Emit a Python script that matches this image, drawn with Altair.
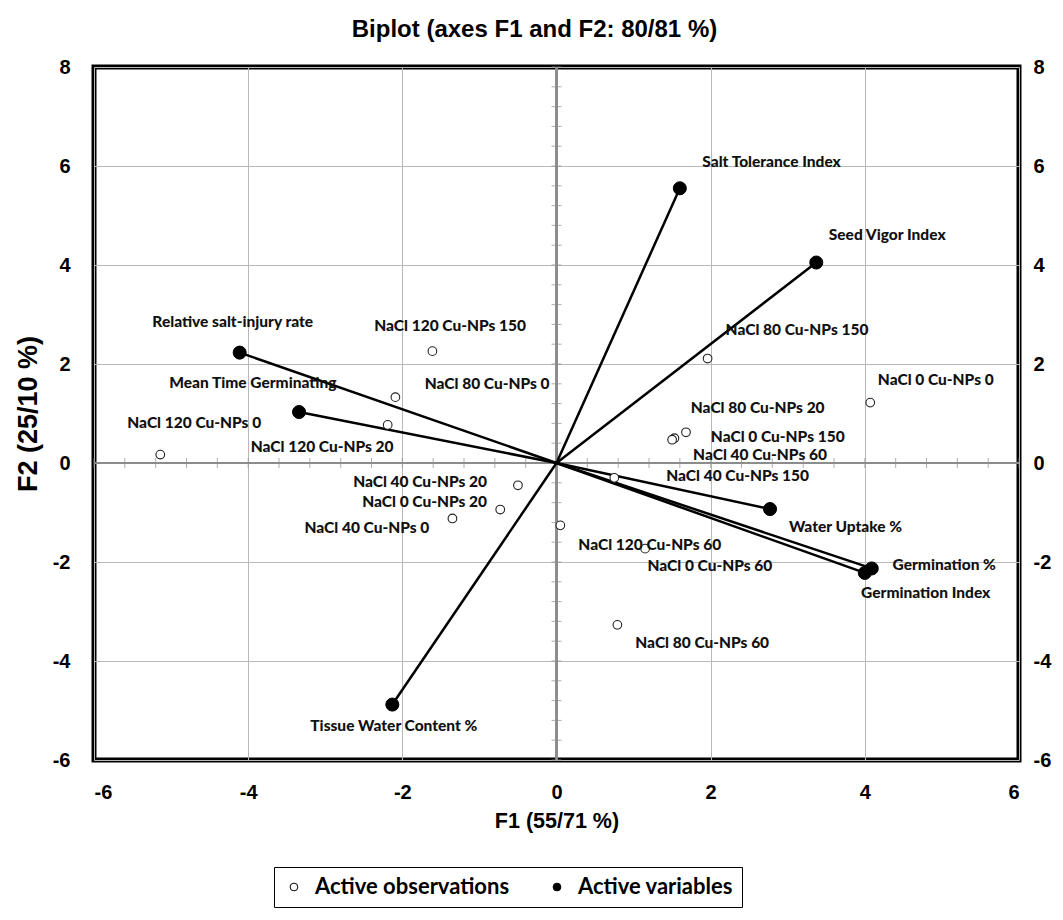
import altair as alt
import pandas as pd

# ---------------- data ----------------
obs_names = [
    "NaCl 0 Cu-NPs 0", "NaCl 0 Cu-NPs 20", "NaCl 0 Cu-NPs 60", "NaCl 0 Cu-NPs 150",
    "NaCl 40 Cu-NPs 0", "NaCl 40 Cu-NPs 20", "NaCl 40 Cu-NPs 60", "NaCl 40 Cu-NPs 150",
    "NaCl 80 Cu-NPs 0", "NaCl 80 Cu-NPs 20", "NaCl 80 Cu-NPs 60", "NaCl 80 Cu-NPs 150",
    "NaCl 120 Cu-NPs 0", "NaCl 120 Cu-NPs 20", "NaCl 120 Cu-NPs 60", "NaCl 120 Cu-NPs 150",
]
obs_f1 = [4.07, -0.73, 1.15, 1.53, -1.35, -0.50, 1.50, 0.75,
          -2.09, 1.68, 0.79, 1.96, -5.14, -2.19, 0.05, -1.61]
obs_f2 = [1.22, -0.94, -1.73, 0.50, -1.12, -0.45, 0.47, -0.30,
          1.33, 0.62, -3.27, 2.11, 0.17, 0.77, -1.26, 2.26]
# where each observation's label sits (data units)
obs_label_f1 = [4.92, -1.71, 1.99, 2.87, -2.46, -1.77, 2.64, 2.35,
                -0.90, 2.61, 1.89, 3.12, -4.70, -3.04, 1.21, -1.38]
obs_label_f2 = [1.67, -0.78, -2.09, 0.52, -1.32, -0.39, 0.17, -0.27,
                1.59, 1.12, -3.63, 2.68, 0.80, 0.33, -1.65, 2.76]

var_names = [
    "Germination %", "Germination Index", "Mean Time Germinating", "Seed Vigor Index",
    "Salt Tolerance Index", "Relative salt-injury rate", "Water Uptake %",
    "Tissue Water Content %",
]
var_f1 = [4.09, 4.00, -3.34, 3.37, 1.60, -4.11, 2.77, -2.13]
var_f2 = [-2.13, -2.22, 1.03, 4.05, 5.55, 2.23, -0.93, -4.88]
var_label_f1 = [5.03, 4.79, -3.94, 4.29, 2.79, -4.20, 3.75, -2.11]
var_label_f2 = [-2.07, -2.62, 1.61, 4.60, 6.09, 2.84, -1.30, -5.32]

x_ticks = [-6, -4, -2, 0, 2, 4, 6]
y_ticks = [-6, -4, -2, 0, 2, 4, 6, 8]
minor_step = 0.4
x_minor = [round(-6 + i * minor_step, 1) for i in range(31)]
y_minor = [round(-6 + i * minor_step, 1) for i in range(36)]

legend_kinds = ["Active observations", "Active variables"]

# ---------------- tables ----------------
obs = pd.DataFrame({"name": obs_names, "F1": obs_f1, "F2": obs_f2,
                    "lx": obs_label_f1, "ly": obs_label_f2,
                    "kind": legend_kinds[0]})
var = pd.DataFrame({"name": var_names, "F1": var_f1, "F2": var_f2,
                    "lx": var_label_f1, "ly": var_label_f2,
                    "kind": legend_kinds[1], "zero": 0.0})
xm = pd.DataFrame({"t": x_minor})
ym = pd.DataFrame({"t": y_minor})

# ---------------- scales / axes ----------------
TICK_FONT = "Liberation Sans"
LABEL_FONT = "Lato"
PLAIN_LABEL = "'' + datum.value"
xs = alt.Scale(domain=[-6, 6], nice=False, zero=False)
ys = alt.Scale(domain=[-6, 8], nice=False, zero=False)

x_axis = alt.Axis(values=x_ticks, title="F1 (55/71 %)", grid=True,
                  gridColor="#b8b8b8", gridWidth=1, domain=False, ticks=False,
                  labelPadding=22, labelFont=TICK_FONT, labelFontSize=20,
                  labelFontWeight="bold", labelColor="black", labelExpr=PLAIN_LABEL,
                  titleFont=TICK_FONT, titleFontSize=21.5, titleFontWeight="bold",
                  titleColor="black", titlePadding=8)
y_axis = alt.Axis(values=y_ticks, title="F2 (25/10 %)", grid=True,
                  gridColor="#b8b8b8", gridWidth=1, domain=False, ticks=False,
                  labelPadding=24, labelFont=TICK_FONT, labelFontSize=20,
                  labelFontWeight="bold", labelColor="black", labelExpr=PLAIN_LABEL,
                  titleFont=TICK_FONT, titleFontSize=27, titleFontWeight="bold",
                  titleColor="black", titlePadding=10)


def X(field=None, datum=None):
    if datum is not None:
        return alt.X(datum=datum, type="quantitative", scale=xs, axis=x_axis)
    return alt.X(field, type="quantitative", scale=xs, axis=x_axis)


def Y(field=None, datum=None):
    if datum is not None:
        return alt.Y(datum=datum, type="quantitative", scale=ys, axis=y_axis)
    return alt.Y(field, type="quantitative", scale=ys, axis=y_axis)


fill_enc = alt.Fill("kind:N",
                    scale=alt.Scale(domain=legend_kinds, range=["white", "black"]),
                    legend=alt.Legend(title=None, orient="none", direction="horizontal",
                                      legendX=180, legendY=800))

ZERO_COL = "#8c8c8c"

vzero = alt.Chart(obs).mark_rule(color=ZERO_COL, strokeWidth=1.3).encode(x=X(datum=0))
hzero = alt.Chart(obs).mark_rule(color=ZERO_COL, strokeWidth=1.3).encode(y=Y(datum=0))

xticks_minor = alt.Chart(xm).mark_tick(orient="vertical", size=10, thickness=1,
                                       color=ZERO_COL).encode(x=X("t"), y=Y(datum=0))
yticks_minor = alt.Chart(ym).mark_tick(orient="horizontal", size=10, thickness=1,
                                       color=ZERO_COL).encode(y=Y("t"), x=X(datum=0))

arrows = alt.Chart(var).mark_rule(color="black", strokeWidth=2.5).encode(
    x=X("F1"), y=Y("F2"), x2="zero", y2="zero")

obs_pts = alt.Chart(obs).mark_point(filled=True, shape="circle", size=75,
                                    stroke="#222222", strokeWidth=1.1, opacity=1).encode(
    x=X("F1"), y=Y("F2"), fill=fill_enc)

var_pts = alt.Chart(var).mark_point(filled=True, shape="circle", size=170,
                                    stroke="black", strokeWidth=1, opacity=1).encode(
    x=X("F1"), y=Y("F2"), fill=fill_enc)

text_kw = dict(font=LABEL_FONT, fontSize=15.5, fontWeight=900, color="#111111",
               align="center", baseline="middle")
obs_lbl = alt.Chart(obs).mark_text(**text_kw).encode(x=X("lx"), y=Y("ly"), text="name")
var_lbl = alt.Chart(var).mark_text(**text_kw).encode(x=X("lx"), y=Y("ly"), text="name")

main = alt.layer(vzero, hzero, xticks_minor, yticks_minor, arrows,
                 obs_pts, var_pts, obs_lbl, var_lbl)

right_axis = alt.Chart(obs).mark_point(opacity=0).encode(
    x=X("F1"),
    y=alt.Y("F2:Q", scale=alt.Scale(domain=[-6, 8], nice=False, zero=False),
            axis=alt.Axis(orient="right", values=y_ticks, grid=False, domain=False,
                          ticks=False, title=None, labelPadding=14,
                          labelFont=TICK_FONT, labelFontSize=20, labelExpr=PLAIN_LABEL,
                          labelFontWeight="bold", labelColor="black")))

chart = alt.layer(main, right_axis).resolve_scale(y="independent").properties(
    width=925, height=693,
    autosize=alt.AutoSizeParams(type="none"),
    padding={"left": 86, "top": 59, "right": 35, "bottom": 150},
    title=alt.Title("Biplot (axes F1 and F2: 80/81 %)", font=TICK_FONT, fontSize=24,
                    fontWeight="bold", color="black", anchor="middle", frame="group",
                    baseline="bottom", offset=-9, dx=-22),
).configure_view(stroke="black", strokeWidth=5).configure_legend(
    symbolType="circle", symbolSize=60, symbolStrokeColor="black", symbolStrokeWidth=1,
    labelFont=LABEL_FONT, labelFontSize=22, labelFontWeight="bold", labelColor="black",
    labelLimit=400, columnPadding=36, strokeColor="black", strokeWidth=1, padding=9,
    fillColor="white", labelOffset=10,
)

chart.save("out.html", embed_options={"renderer": "svg", "actions": False})
